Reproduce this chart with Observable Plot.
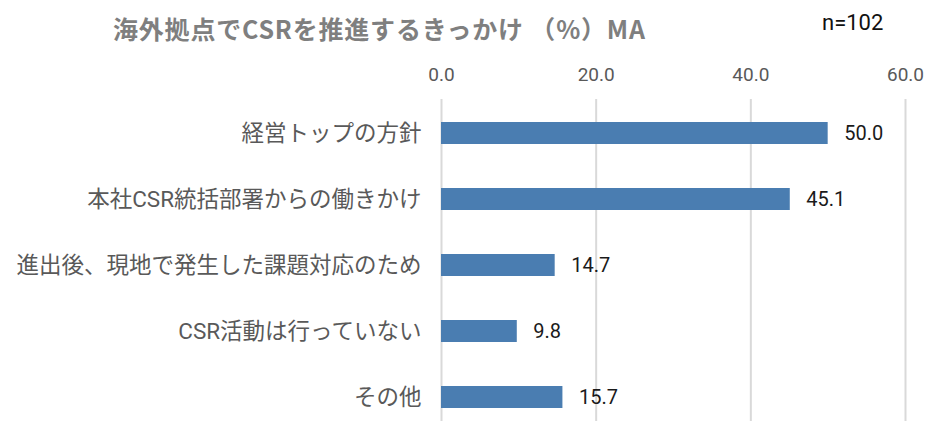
<!DOCTYPE html>
<html>
<head>
<meta charset="utf-8">
<script src="https://cdn.jsdelivr.net/npm/d3@7"></script>
<script src="https://cdn.jsdelivr.net/npm/@observablehq/plot@0.6"></script>
<style>
  html, body { margin: 0; padding: 0; background: #fff; overflow: hidden; }
  #header { position: relative; width: 926px; height: 60px; }
  #title { position: absolute; left: 113px; top: 12px; font-family: "Noto Sans CJK JP", sans-serif; font-weight: bold; font-size: 25px; line-height: 32px; color: #7f7f7f; white-space: nowrap; letter-spacing: 0.8px; }
  #n { position: absolute; left: 822px; top: 9px; font-family: Roboto, sans-serif; font-size: 22px; line-height: 28px; color: #111; }
  #chart svg { display: block; }
</style>
</head>
<body>
<div id="header"><div id="title">海外拠点でCSRを推進するきっかけ （%）MA</div><div id="n">n=102</div></div>
<div id="chart"></div>
<script>
const categories = ["経営トップの方針", "本社CSR統括部署からの働きかけ", "進出後、現地で発生した課題対応のため", "CSR活動は行っていない", "その他"];
const values = [50.0, 45.1, 14.7, 9.8, 15.7];
const xTicks = [0, 20, 40, 60];

const data = categories.map((c, i) => ({label: c, value: values[i]}));

const chart = Plot.plot({
  width: 926,
  height: 370,
  marginTop: 39,
  marginBottom: 0,
  marginLeft: 441,
  marginRight: 21,
  style: {fontFamily: "Roboto, 'Noto Sans CJK JP', sans-serif", background: "#fff", overflow: "visible"},
  x: {domain: [0, 60]},
  y: {domain: categories, padding: 0},
  marks: [
    Plot.gridX(xTicks, {stroke: "#d9d9d9", strokeOpacity: 1, strokeWidth: 2}),
    Plot.barX(data, {x: "value", y: "label", fill: "#4a7db1", insetTop: 22, insetBottom: 22}),
    Plot.text(data, {x: "value", y: "label", text: d => d.value.toFixed(1), dx: 16, textAnchor: "start", fontSize: 20, fill: "#1a1a1a"}),
    Plot.axisX({anchor: "top", ticks: xTicks, tickFormat: d => d.toFixed(1), tickSize: 0, tickPadding: 19, fontSize: 19, color: "#595959", label: null}),
    Plot.axisY({tickSize: 0, tickPadding: 20, fontSize: 22.5, color: "#595959", label: null, fontFamily: "Roboto, 'Noto Sans CJK JP', sans-serif"})
  ]
});
document.getElementById("chart").appendChild(chart);
</script>
</body>
</html>
